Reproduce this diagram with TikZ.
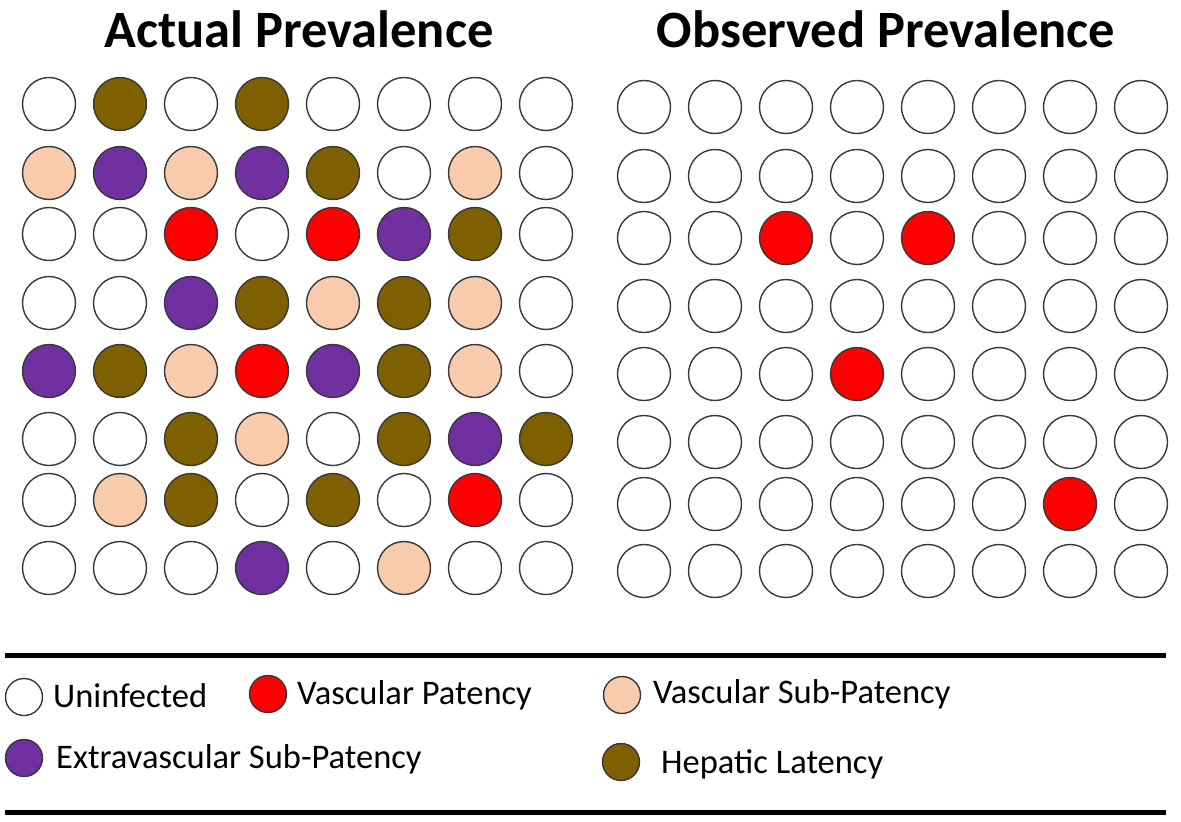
\documentclass[tikz,border=0pt]{standalone}
\usepackage{fontspec}
\setmainfont{Carlito}
\usetikzlibrary{positioning}

\definecolor{hepatic}{HTML}{7F6000}
\definecolor{extravasc}{HTML}{7030A0}
\definecolor{subpatent}{HTML}{F8CBAD}
\definecolor{patent}{HTML}{FF0000}

\def\cellsep{71}

\begin{document}
\begin{tikzpicture}[x=1pt,y=-1pt]
    \tikzstyle{cell}=[circle,draw=black!78,line width=1.4pt,minimum size=53pt,inner sep=0pt]
    \tikzstyle{keydot}=[cell,minimum size=37pt]
    \tikzstyle{keytext}=[anchor=base west,inner sep=0pt,font=\fontsize{34.5}{40}\selectfont]
    \tikzstyle{heading}=[anchor=base,inner sep=0pt,font=\fontsize{52.5}{60}\selectfont\bfseries]
    \tikzstyle{hrule}=[line width=5pt]

    \useasboundingbox (0,0) rectangle (1181,822);

    % Row heights of the two grids
    \def\rowA{{104,173,234,303,371,439,500,568}}
    \def\rowO{{107,176,238,306,374,442,504,571}}

    % Headings
    \node[heading] (title-A) at (299,47) {Actual Prevalence};
    \node[heading] (title-O) at (886,47) {Observed Prevalence};

    % Draw the actual prevalence grid
    \foreach \codes [count=\r] in {
        {white,hepatic,white,hepatic,white,white,white,white},
        {subpatent,extravasc,subpatent,extravasc,hepatic,white,subpatent,white},
        {white,white,patent,white,patent,extravasc,hepatic,white},
        {white,white,extravasc,hepatic,subpatent,hepatic,subpatent,white},
        {extravasc,hepatic,subpatent,patent,extravasc,hepatic,subpatent,white},
        {white,white,hepatic,subpatent,white,hepatic,extravasc,hepatic},
        {white,subpatent,hepatic,white,hepatic,white,patent,white},
        {white,white,white,extravasc,white,subpatent,white,white}}
        \foreach \c [count=\k] in \codes {
            \pgfmathsetmacro{\y}{\rowA[\r-1]}
            \node[cell,fill=\c] (A-\r-\k) at ({49+(\k-1)*\cellsep},\y) {};
        }

    % Draw the observed prevalence grid (only patent cases are seen)
    \foreach \codes [count=\r] in {
        {white,white,white,white,white,white,white,white},
        {white,white,white,white,white,white,white,white},
        {white,white,patent,white,patent,white,white,white},
        {white,white,white,white,white,white,white,white},
        {white,white,white,patent,white,white,white,white},
        {white,white,white,white,white,white,white,white},
        {white,white,white,white,white,white,patent,white},
        {white,white,white,white,white,white,white,white}}
        \foreach \c [count=\k] in \codes {
            \pgfmathsetmacro{\y}{\rowO[\r-1]}
            \node[cell,fill=\c] (O-\r-\k) at ({644+(\k-1)*\cellsep},\y) {};
        }

    % Legend rules
    \coordinate (rule-top-l) at (5,655.5);
    \coordinate (rule-top-r) at (1166,655.5);
    \coordinate (rule-bot-l) at (5,812);
    \coordinate (rule-bot-r) at (1166,812);
    \draw[hrule] (rule-top-l) -- (rule-top-r);
    \draw[hrule] (rule-bot-l) -- (rule-bot-r);

    % Legend entries
    \node[keydot,fill=white] (key-uninf) at (24,697) {};
    \node[keytext] (lab-uninf) at (53,707) {Uninfected};
    \node[keydot,fill=patent] (key-vpat) at (268,694) {};
    \node[keytext] (lab-vpat) at (297,704) {Vascular Patency};
    \node[keydot,fill=subpatent] (key-vsub) at (622,695) {};
    \node[keytext] (lab-vsub) at (653,703) {Vascular Sub-Patency};
    \node[keydot,fill=extravasc] (key-evsub) at (24,758) {};
    \node[keytext] (lab-evsub) at (56,768) {Extravascular Sub-Patency};
    \node[keydot,fill=hepatic] (key-hlat) at (621,762) {};
    \node[keytext] (lab-hlat) at (661,773) {Hepatic Latency};
\end{tikzpicture}
\end{document}
